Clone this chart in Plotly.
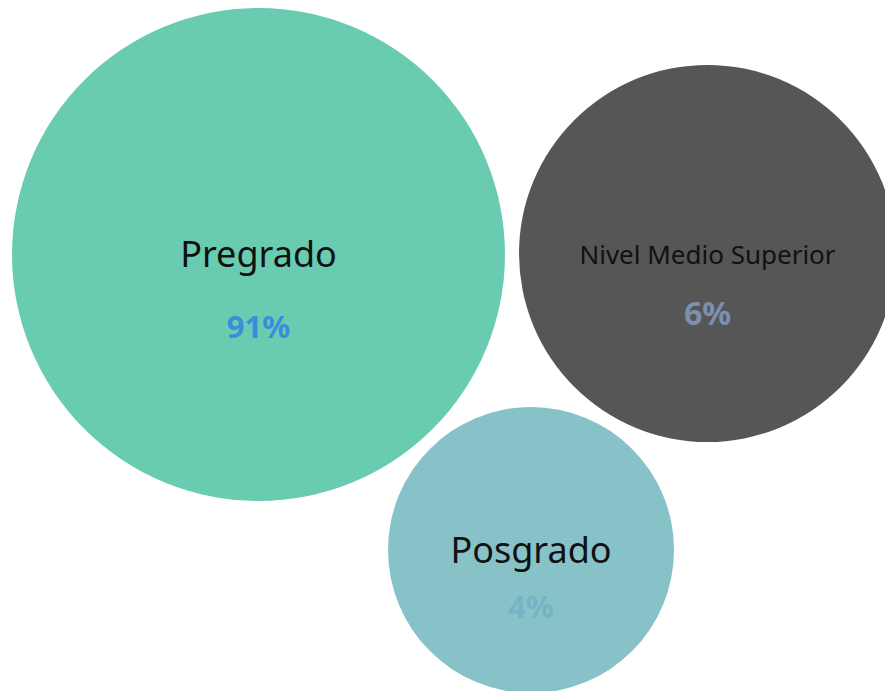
import plotly.graph_objects as go

# Data
categories = ["Pregrado", "Nivel Medio Superior", "Posgrado"]
percent_labels = ["91%", "6%", "4%"]

# Layout of the packed bubbles (pixel-like data units)
centers_x = [258.5, 707.5, 531.0]
centers_y = [254.5, 253.5, 550.0]
radii = [246.5, 188.5, 143.0]
fill_colors = ["#69CCB0", "#565656", "#87C2C9"]
pct_colors = ["#3C8CDB", "#7B8FB0", "#76B4C4"]
name_sizes = [36, 26, 36]
pct_sizes = [31, 32, 31]
name_dy = [3, 4, 4]
pct_dy = [76, 63, 60]

fig = go.Figure()

for cx, cy, r, col in zip(centers_x, centers_y, radii, fill_colors):
    fig.add_shape(type="circle", xref="x", yref="y",
                  x0=cx - r, x1=cx + r, y0=cy - r, y1=cy + r,
                  fillcolor=col, line=dict(width=0), layer="below")

for i, cat in enumerate(categories):
    fig.add_trace(go.Scatter(
        x=[centers_x[i]], y=[centers_y[i] + name_dy[i]], mode="text",
        text=[cat], textposition="middle center",
        textfont=dict(family="Noto Sans", size=name_sizes[i], color="#111111"),
        hoverinfo="skip", showlegend=False))
    fig.add_trace(go.Scatter(
        x=[centers_x[i]], y=[centers_y[i] + pct_dy[i]], mode="text",
        text=["<b>" + percent_labels[i] + "</b>"], textposition="middle center",
        textfont=dict(family="Noto Sans", size=pct_sizes[i], color=pct_colors[i]),
        hoverinfo="skip", showlegend=False))

fig.update_layout(
    width=885, height=691,
    margin=dict(l=0, r=0, t=0, b=0),
    paper_bgcolor="white", plot_bgcolor="white",
    xaxis=dict(range=[0, 885], visible=False, fixedrange=True),
    yaxis=dict(range=[691, 0], visible=False, fixedrange=True),
    showlegend=False,
)

fig.write_html("out.html",
               config={"displayModeBar": False},
               post_script="document.body.style.margin='0px';document.body.style.overflow='hidden';")
